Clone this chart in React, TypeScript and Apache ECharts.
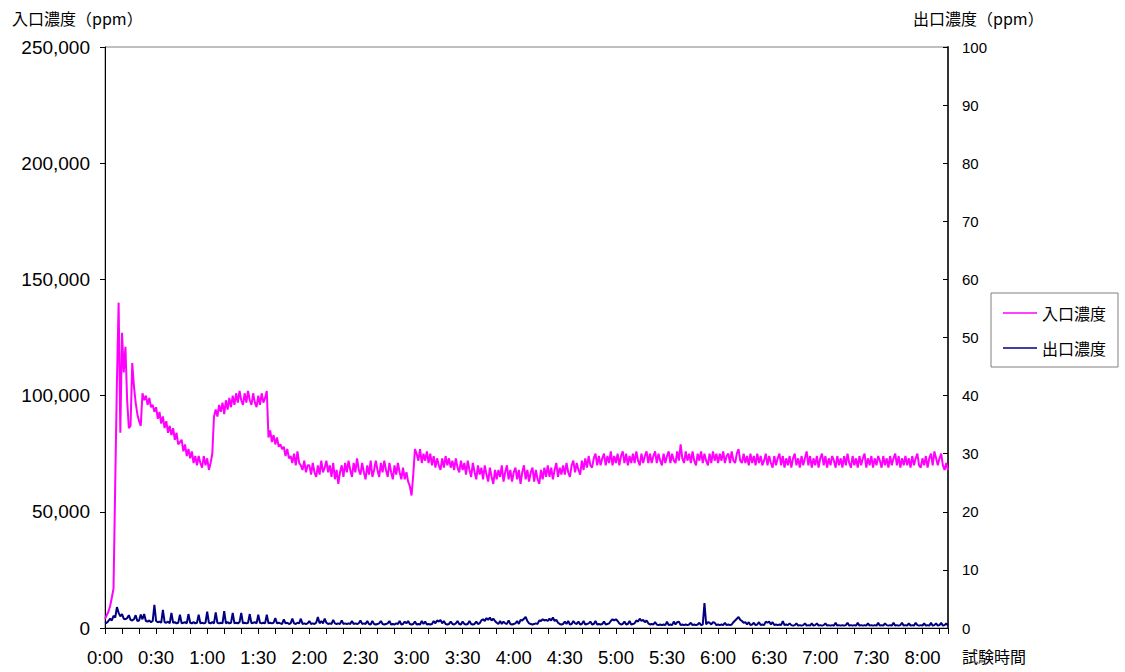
import React, { useEffect, useRef } from "react";
import * as echarts from "echarts";

// Sampling step of the recorded data (minutes)
const STEP_MIN = 1;

// Time-axis tick labels (every 30 minutes)
const timeLabels = [
  "0:00", "0:30", "1:00", "1:30", "2:00", "2:30", "3:00", "3:30", "4:00",
  "4:30", "5:00", "5:30", "6:00", "6:30", "7:00", "7:30", "8:00",
];

// 入口濃度 (ppm), one value per minute, 0:00 .. 8:15
const inlet: number[] = [
  4000, 5500, 7000, 9500, 13000, 17000, 62000, 106000, 140000, 84000,
  127000, 110000, 121000, 98000, 86000, 87000, 114000, 104000, 97000, 92000,
  89000, 87000, 101000, 98000, 100000, 96000, 99000, 95000, 96000, 93000,
  95000, 90000, 93000, 88000, 91000, 86000, 89000, 84000, 87000, 83000,
  86000, 81000, 84000, 79000, 80000, 81000, 76000, 79000, 74000, 77000,
  73000, 76000, 71000, 74000, 70000, 74000, 71000, 69000, 74000, 70000,
  73000, 68000, 71000, 75000, 91000, 94000, 91000, 96000, 93000, 97000,
  92000, 98000, 94000, 99000, 95000, 100000, 96000, 101000, 97000, 102000,
  98000, 96000, 101000, 97000, 102000, 98000, 96000, 101000, 97000, 95000,
  100000, 96000, 101000, 97000, 99000, 102000, 82000, 85000, 80000, 83000,
  79000, 82000, 78000, 79000, 77000, 78000, 74000, 77000, 73000, 74000,
  71000, 75000, 70000, 76000, 71000, 70000, 68000, 72000, 67000, 70000,
  70000, 66000, 71000, 67000, 65000, 70000, 66000, 72000, 67000, 69000,
  72000, 67000, 70000, 65000, 71000, 64000, 68000, 62000, 67000, 70000,
  65000, 71000, 67000, 72000, 68000, 65000, 71000, 67000, 73000, 68000,
  66000, 71000, 67000, 64000, 70000, 66000, 72000, 65000, 68000, 72000,
  68000, 65000, 71000, 67000, 72000, 68000, 65000, 71000, 67000, 64000,
  70000, 66000, 71000, 67000, 64000, 69000, 64000, 67000, 63000, 61000,
  57000, 66000, 77000, 75000, 72000, 77000, 71000, 75000, 72000, 76000,
  71000, 75000, 70000, 74000, 69000, 73000, 70000, 68000, 73000, 69000,
  74000, 70000, 73000, 69000, 72000, 68000, 73000, 69000, 67000, 72000,
  68000, 71000, 66000, 72000, 68000, 65000, 71000, 67000, 64000, 70000,
  66000, 69000, 64000, 70000, 66000, 63000, 69000, 65000, 62000, 68000,
  64000, 68000, 65000, 70000, 63000, 67000, 70000, 64000, 68000, 63000,
  67000, 69000, 64000, 68000, 62000, 67000, 70000, 64000, 68000, 63000,
  67000, 69000, 63000, 68000, 64000, 62000, 68000, 64000, 69000, 65000,
  70000, 65000, 69000, 64000, 68000, 71000, 65000, 69000, 66000, 70000,
  66000, 71000, 67000, 65000, 70000, 72000, 67000, 71000, 68000, 66000,
  72000, 68000, 73000, 69000, 74000, 70000, 69000, 73000, 75000, 70000,
  74000, 70000, 73000, 75000, 70000, 74000, 71000, 76000, 70000, 74000,
  71000, 75000, 70000, 74000, 76000, 71000, 75000, 70000, 74000, 71000,
  75000, 71000, 76000, 72000, 70000, 75000, 71000, 74000, 76000, 71000,
  75000, 71000, 74000, 76000, 71000, 75000, 72000, 70000, 75000, 71000,
  74000, 76000, 71000, 75000, 72000, 71000, 76000, 72000, 79000, 73000,
  71000, 76000, 72000, 75000, 71000, 76000, 72000, 70000, 75000, 72000,
  76000, 71000, 75000, 72000, 70000, 75000, 71000, 76000, 72000, 75000,
  71000, 75000, 72000, 76000, 71000, 74000, 75000, 71000, 76000, 72000,
  71000, 75000, 77000, 72000, 71000, 75000, 71000, 74000, 70000, 75000,
  71000, 74000, 70000, 75000, 71000, 74000, 70000, 72000, 75000, 70000,
  74000, 71000, 69000, 74000, 70000, 73000, 75000, 70000, 74000, 69000,
  73000, 70000, 74000, 69000, 73000, 75000, 70000, 73000, 69000, 74000,
  70000, 73000, 76000, 70000, 74000, 69000, 73000, 70000, 74000, 69000,
  73000, 75000, 70000, 74000, 69000, 73000, 70000, 74000, 72000, 69000,
  74000, 70000, 73000, 69000, 74000, 70000, 75000, 71000, 69000, 74000,
  70000, 73000, 69000, 74000, 70000, 73000, 75000, 69000, 73000, 70000,
  74000, 69000, 73000, 70000, 74000, 72000, 69000, 74000, 70000, 73000,
  69000, 74000, 70000, 73000, 75000, 70000, 74000, 69000, 73000, 70000,
  74000, 70000, 73000, 69000, 74000, 70000, 73000, 75000, 70000, 69000,
  73000, 70000, 74000, 69000, 73000, 75000, 70000, 76000, 73000, 70000,
  73000, 75000, 70000, 68000, 71000, 68000,
];

// 出口濃度 (ppm), one value per minute, 0:00 .. 8:15
const outlet: number[] = [
  0.8, 0.9, 1.2, 1.6, 1.3, 2.1, 1.8, 3.6, 2.6, 2.0,
  2.4, 1.6, 1.5, 1.7, 2.2, 1.4, 1.3, 1.5, 2.2, 1.2,
  1.3, 2.3, 1.5, 2.4, 1.2, 1.1, 1.3, 1.0, 1.2, 4.0,
  1.2, 1.0, 1.1, 0.9, 3.1, 1.0, 0.9, 1.1, 0.8, 2.6,
  0.9, 1.0, 0.8, 0.9, 2.3, 0.8, 0.9, 1.0, 0.8, 2.4,
  0.9, 0.8, 1.0, 0.8, 0.9, 2.3, 0.8, 0.9, 0.8, 0.9,
  2.8, 0.9, 0.8, 1.0, 0.8, 2.7, 0.9, 0.8, 0.9, 0.8,
  2.9, 0.8, 1.0, 0.8, 0.9, 2.6, 0.8, 0.9, 0.8, 1.0,
  2.6, 0.8, 0.9, 0.8, 0.9, 2.4, 0.8, 0.9, 1.0, 0.8,
  2.3, 0.9, 0.8, 0.9, 0.8, 2.3, 0.8, 0.9, 0.8, 0.9,
  1.7, 0.8, 0.9, 0.8, 0.7, 1.5, 0.8, 0.9, 0.7, 0.8,
  1.6, 0.8, 0.7, 0.9, 0.8, 1.6, 0.7, 0.8, 0.7, 0.8,
  1.2, 0.7, 0.8, 0.7, 0.9, 1.9, 0.8, 1.2, 0.8, 1.6,
  0.9, 0.7, 0.8, 0.7, 1.4, 0.8, 0.7, 0.8, 0.7, 1.3,
  0.7, 0.8, 0.7, 0.8, 0.7, 1.2, 0.7, 0.8, 0.7, 0.8,
  1.3, 0.7, 0.8, 0.7, 1.2, 0.7, 0.6, 1.2, 0.7, 0.6,
  0.7, 0.8, 1.2, 0.7, 0.6, 0.7, 0.8, 1.2, 0.6, 0.7,
  0.6, 0.8, 0.7, 1.2, 0.6, 0.7, 1.1, 0.8, 1.2, 0.7,
  0.6, 0.7, 1.1, 0.6, 0.7, 0.6, 1.2, 0.7, 1.1, 0.6,
  0.7, 0.6, 0.7, 1.2, 0.8, 1.3, 1.1, 1.4, 0.8, 1.2,
  0.7, 0.6, 0.7, 1.1, 0.7, 0.6, 0.8, 1.2, 0.7, 0.6,
  1.1, 0.7, 0.6, 0.7, 1.2, 0.7, 0.6, 0.7, 1.1, 0.7,
  0.8, 1.3, 1.5, 1.2, 1.7, 1.4, 1.8, 1.3, 1.6, 1.2,
  0.9, 0.7, 1.2, 0.7, 1.1, 0.8, 0.7, 1.3, 0.7, 0.6,
  0.7, 0.8, 1.2, 0.7, 1.4, 1.3, 1.6, 1.9, 1.2, 0.8,
  0.7, 0.6, 0.7, 0.8, 0.7, 1.3, 1.2, 1.5, 1.3, 1.4,
  1.2, 1.6, 1.3, 1.8, 1.2, 1.4, 0.9, 0.7, 0.6, 0.7,
  1.1, 0.7, 1.2, 0.6, 0.7, 1.2, 0.8, 0.7, 1.1, 0.6,
  0.7, 1.2, 0.6, 0.7, 0.8, 1.1, 0.6, 0.7, 1.2, 0.6,
  0.7, 0.6, 0.7, 1.1, 0.6, 0.7, 0.8, 1.2, 1.5, 1.3,
  1.5, 1.2, 0.8, 0.6, 0.7, 1.1, 0.6, 0.7, 1.2, 0.6,
  0.7, 0.8, 1.3, 1.1, 1.6, 1.2, 1.4, 1.0, 1.3, 0.8,
  0.6, 0.7, 0.6, 1.0, 0.6, 0.5, 0.6, 0.5, 0.6, 0.5,
  1.1, 0.5, 0.6, 0.5, 1.1, 0.6, 1.0, 1.1, 0.5, 0.6,
  0.5, 0.6, 0.5, 0.6, 0.9, 0.5, 0.6, 0.5, 0.6, 0.9,
  0.5, 0.6, 4.3, 0.6, 1.0, 0.9, 0.6, 1.0, 0.9, 0.5,
  0.6, 0.5, 0.6, 0.5, 0.9, 0.5, 0.6, 0.5, 0.6, 1.0,
  1.3, 1.6, 1.9, 1.4, 1.2, 0.9, 1.0, 0.6, 1.0, 0.5,
  0.6, 0.9, 0.5, 0.6, 1.0, 0.5, 0.6, 0.5, 1.1, 0.9,
  1.1, 0.6, 1.0, 0.5, 0.6, 0.5, 0.6, 0.5, 1.2, 0.5,
  0.6, 0.5, 0.8, 0.5, 0.4, 0.5, 0.8, 0.4, 0.5, 0.4,
  0.5, 0.8, 0.4, 0.5, 0.4, 0.8, 0.4, 0.5, 0.8, 0.4,
  0.5, 0.4, 0.5, 0.8, 0.4, 0.5, 0.4, 0.5, 0.4, 0.9,
  0.4, 0.5, 0.4, 0.5, 0.4, 0.5, 0.9, 0.4, 0.5, 0.4,
  0.5, 0.4, 0.9, 0.4, 0.5, 0.4, 0.5, 0.4, 0.8, 0.4,
  0.5, 0.4, 0.5, 0.4, 0.9, 0.4, 0.5, 0.4, 0.8, 0.5,
  0.4, 0.5, 0.4, 0.9, 0.4, 0.5, 0.4, 0.5, 0.9, 0.4,
  0.5, 0.4, 0.8, 0.4, 0.5, 0.4, 0.9, 0.5, 0.4, 0.5,
  0.4, 0.8, 0.4, 0.5, 0.4, 0.9, 0.4, 0.5, 0.8, 0.4,
  0.5, 0.9, 0.4, 0.5, 0.8, 0.4,
];

const NUM_FONT = '"Liberation Sans", Arial, "Noto Sans CJK JP", sans-serif';
const CJK_FONT = '"Noto Sans CJK JP", "Liberation Sans", sans-serif';

export default function App() {
  const ref = useRef<HTMLDivElement>(null);

  useEffect(() => {
    if (!ref.current) return;
    const chart = echarts.init(ref.current, null, { renderer: "svg" });

    const inletData = inlet.map((v, i) => [i * STEP_MIN, v]);
    const outletData = outlet.map((v, i) => [i * STEP_MIN, v]);
    const xMax = (inlet.length - 1) * STEP_MIN;

    chart.setOption({
      animation: false,
      backgroundColor: "#ffffff",
      grid: {
        left: 105,
        right: 177,
        top: 47,
        bottom: 44,
        show: true,
        borderColor: "#808080",
        borderWidth: 1,
        backgroundColor: "transparent",
      },
      legend: {
        orient: "vertical",
        left: 991,
        top: 293,
        padding: [12, 12, 11, 12],
        icon: "rect",
        itemWidth: 34,
        itemHeight: 1.5,
        itemGap: 19,
        borderColor: "#808080",
        borderWidth: 1,
        backgroundColor: "#ffffff",
        textStyle: { fontFamily: CJK_FONT, fontSize: 16, color: "#000", lineHeight: 16 },
        data: ["入口濃度", "出口濃度"],
      },
      xAxis: {
        type: "value",
        min: 0,
        max: xMax,
        interval: 10,
        axisLine: { show: true, onZero: false, lineStyle: { color: "#000", width: 1 } },
        axisTick: { show: true, length: 6, lineStyle: { color: "#000" } },
        axisLabel: {
          fontFamily: NUM_FONT,
          fontSize: 18.5,
          color: "#000",
          margin: 20,
          formatter: (v: number) =>
            v % 30 === 0 && timeLabels[v / 30] !== undefined ? timeLabels[v / 30] : "",
        },
        splitLine: { show: false },
      },
      yAxis: [
        {
          type: "value",
          position: "left",
          min: 0,
          max: 250000,
          interval: 50000,
          axisLine: { show: true, onZero: false, lineStyle: { color: "#000", width: 1 } },
          axisTick: { show: true, length: 5, inside: false, lineStyle: { color: "#000" } },
          axisLabel: {
            fontFamily: NUM_FONT,
            fontSize: 19,
            color: "#000",
            margin: 15,
            formatter: (v: number) => v.toLocaleString("en-US"),
          },
          splitLine: { show: false },
        },
        {
          type: "value",
          position: "right",
          min: 0,
          max: 100,
          interval: 10,
          axisLine: { show: true, onZero: false, lineStyle: { color: "#333", width: 2 } },
          axisTick: { show: true, length: 5, inside: true, lineStyle: { color: "#000" } },
          axisLabel: {
            fontFamily: NUM_FONT,
            fontSize: 15,
            color: "#000",
            margin: 14,
          },
          splitLine: { show: false },
        },
      ],
      series: [
        {
          name: "入口濃度",
          type: "line",
          yAxisIndex: 0,
          data: inletData,
          symbol: "none",
          lineStyle: { color: "#FF00FF", width: 2 },
          itemStyle: { color: "#FF00FF" },
        },
        {
          name: "出口濃度",
          type: "line",
          yAxisIndex: 1,
          data: outletData,
          symbol: "none",
          lineStyle: { color: "#000080", width: 2 },
          itemStyle: { color: "#000080" },
        },
      ],
      graphic: [
        {
          type: "text",
          x: 12,
          y: 18,
          style: {
            text: "入口濃度（ppm）",
            fontFamily: CJK_FONT,
            fontSize: 16,
            fill: "#000",
            verticalAlign: "middle",
          },
        },
        {
          type: "text",
          x: 913,
          y: 18,
          style: {
            text: "出口濃度（ppm）",
            fontFamily: CJK_FONT,
            fontSize: 16,
            fill: "#000",
            verticalAlign: "middle",
          },
        },
        {
          type: "text",
          x: 962,
          y: 656,
          style: {
            text: "試験時間",
            fontFamily: CJK_FONT,
            fontSize: 16,
            fill: "#000",
            verticalAlign: "middle",
          },
        },
      ],
    });

    return () => chart.dispose();
  }, []);

  return (
    <div
      ref={ref}
      style={{ position: "fixed", left: 0, top: 0, width: 1125, height: 672, background: "#fff" }}
    />
  );
}
